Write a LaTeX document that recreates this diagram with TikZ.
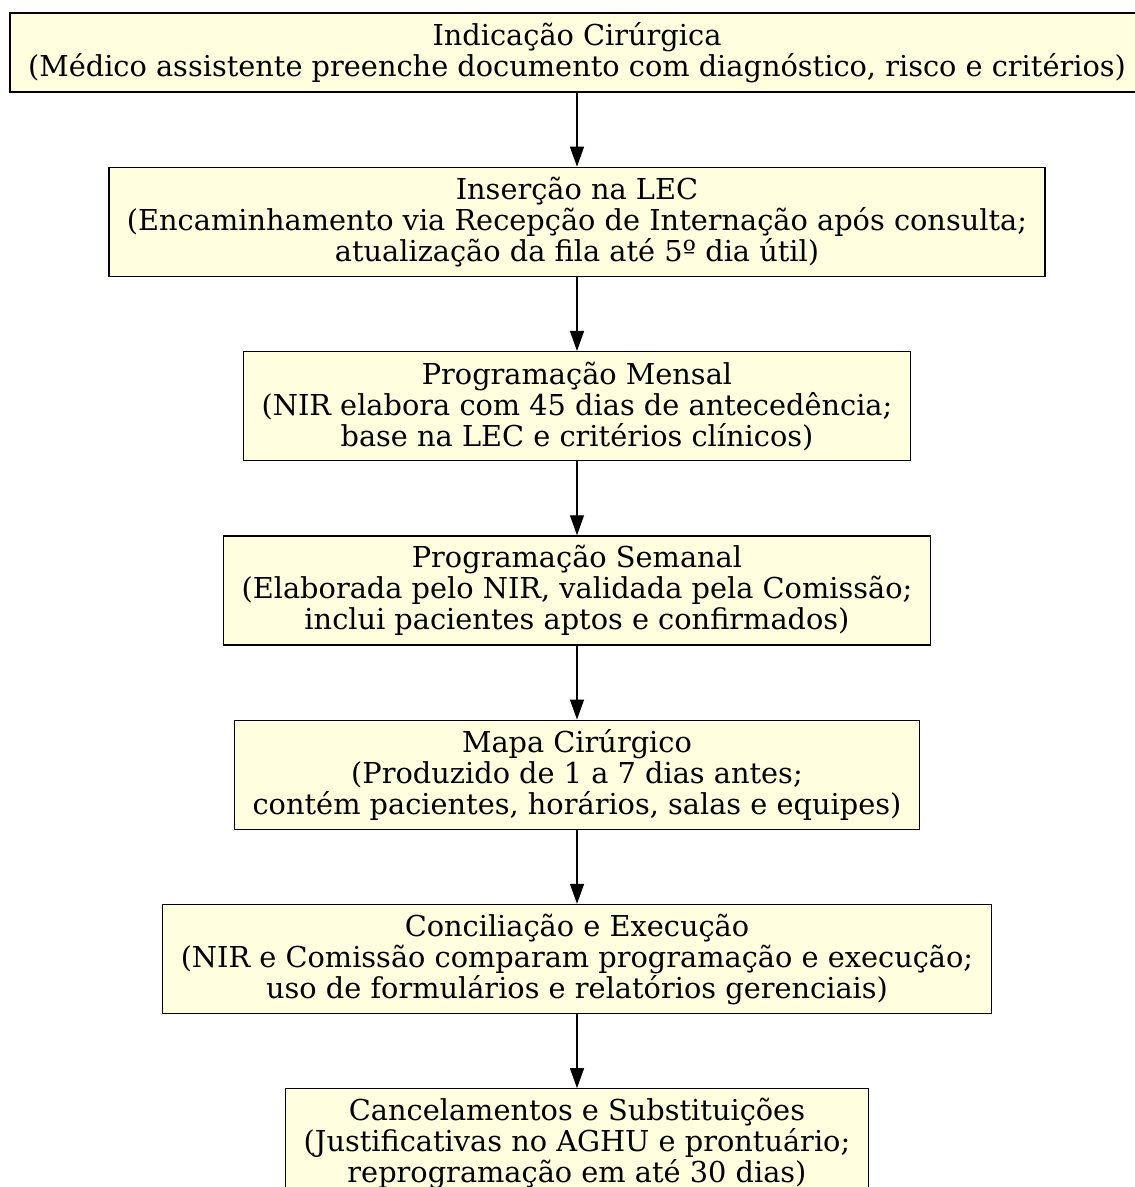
\documentclass[tikz,border=0pt]{standalone}
\usepackage{fontspec}
\setmainfont{DejaVu Serif}
\usepackage{tikz}
\usetikzlibrary{arrows.meta,positioning}
\definecolor{fundo}{HTML}{FFFFE0}

\begin{document}
\begin{tikzpicture}[x=1pt,y=1pt,node distance=74pt,>={Triangle[length=20pt,width=14pt]},
  etapa/.style={draw,line width=1.3pt,fill=fundo,align=center,inner xsep=18pt,inner ysep=3pt,
    font=\fontsize{28.8}{31}\selectfont,minimum height=109pt},
  seta/.style={->,line width=1.3pt}]
  \clip (0,0) rectangle (1135,-1187);
  \node[etapa,minimum height=79pt] (ind) at (577,-52.5) {Indicação Cirúrgica\\
  (Médico assistente preenche documento com diagnóstico, risco e critérios)};
  \node[etapa,below=of ind] (lec) {Inserção na LEC\\
  (Encaminhamento via Recepção de Internação após consulta;\\
  atualização da fila até 5º dia útil)};
  \node[etapa,below=of lec] (mensal) {Programação Mensal\\
  (NIR elabora com 45 dias de antecedência;\\
  base na LEC e critérios clínicos)};
  \node[etapa,below=of mensal] (semanal) {Programação Semanal\\
  (Elaborada pelo NIR, validada pela Comissão;\\
  inclui pacientes aptos e confirmados)};
  \node[etapa,below=of semanal] (mapa) {Mapa Cirúrgico\\
  (Produzido de 1 a 7 dias antes;\\
  contém pacientes, horários, salas e equipes)};
  \node[etapa,below=of mapa] (conc) {Conciliação e Execução\\
  (NIR e Comissão comparam programação e execução;\\
  uso de formulários e relatórios gerenciais)};
  \node[etapa,below=of conc] (canc) {Cancelamentos e Substituições\\
  (Justificativas no AGHU e prontuário;\\
  reprogramação em até 30 dias)};
  \draw[seta] (ind) -- (lec);
  \draw[seta] (lec) -- (mensal);
  \draw[seta] (mensal) -- (semanal);
  \draw[seta] (semanal) -- (mapa);
  \draw[seta] (mapa) -- (conc);
  \draw[seta] (conc) -- (canc);
\end{tikzpicture}
\end{document}
